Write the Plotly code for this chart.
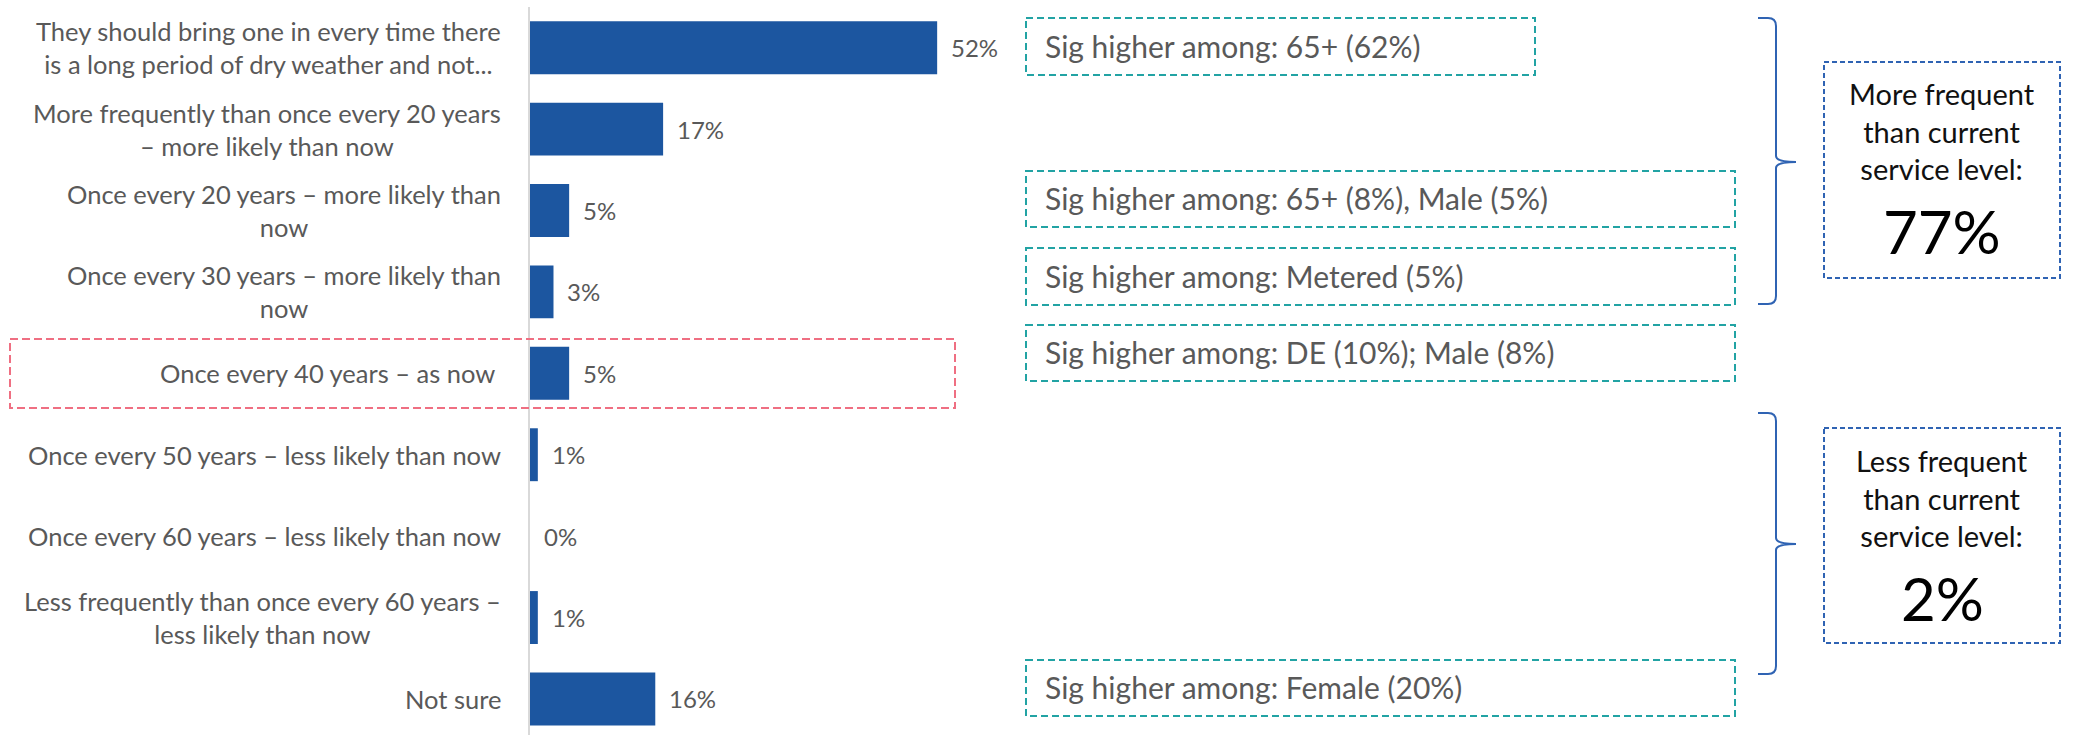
import plotly.graph_objects as go

# ---------------- data ----------------
categories = [
    "They should bring one in every time there<br>is a long period of dry weather and not...",
    "More frequently than once every 20 years<br>– more likely than now",
    "Once every 20 years – more likely than<br>now",
    "Once every 30 years – more likely than<br>now",
    "Once every 40 years – as now",
    "Once every 50 years – less likely than now",
    "Once every 60 years – less likely than now",
    "Less frequently than once every 60 years –<br>less likely than now",
    "Not sure",
]
values = [52, 17, 5, 3, 5, 1, 0, 1, 16]
value_labels = ["52%", "17%", "5%", "3%", "5%", "1%", "0%", "1%", "16%"]

note_texts = [
    "Sig higher among: 65+ (62%)",
    "Sig higher among: 65+ (8%), Male (5%)",
    "Sig higher among: Metered (5%)",
    "Sig higher among: DE (10%); Male (8%)",
    "Sig higher among: Female (20%)",
]
summary_labels = ["More frequent<br>than current<br>service level:",
                  "Less frequent<br>than current<br>service level:"]
summary_values = ["77%", "2%"]

# ---------------- layout helpers ----------------
W, H = 2076, 735
ML, MR, MT, MB = 530, 0, 7, 0
PW, PH = W - ML - MR, H - MT - MB


def px(x):
    return (x - ML) / PW


def py(y):
    return (H - MB - y) / PH


FONT = "Lato"
BAR = "#1c56a0"
TEAL = "#22a3a4"
RED = "#ef6f82"
BLUE = "#2f63b3"
GRAY = "#595959"

fig = go.Figure()
fig.add_trace(go.Bar(
    x=values, y=categories, orientation="h",
    marker=dict(color=BAR, line=dict(width=0)),
    hoverinfo="skip",
))

annotations = []
# category labels
for i, c in enumerate(categories):
    shift = -33 if i == 4 else -27
    annotations.append(dict(
        x=0, xref="paper", y=c, yref="y", text=c, showarrow=False,
        xanchor="right", yanchor="middle", align="center", xshift=shift,
        font=dict(family=FONT, size=25.5, color=GRAY),
    ))
# value labels
for c, v, t in zip(categories, values, value_labels):
    annotations.append(dict(
        x=v, xref="x", y=c, yref="y", text=t, showarrow=False,
        xanchor="left", yanchor="middle", xshift=12,
        font=dict(family=FONT, size=24, color=GRAY),
    ))

shapes = []
# red dashed box round "as now" row
shapes.append(dict(type="rect", xref="paper", yref="paper",
                   x0=px(10), x1=px(955), y0=py(339), y1=py(408),
                   line=dict(color=RED, width=2, dash="8px,4px")))

# teal note boxes
note_boxes = [(1026, 1535, 18, 75), (1026, 1735, 171, 227), (1026, 1735, 248, 305),
              (1026, 1735, 325, 381), (1026, 1735, 660, 716)]
for (x0, x1, y0, y1), t in zip(note_boxes, note_texts):
    shapes.append(dict(type="rect", xref="paper", yref="paper",
                       x0=px(x0), x1=px(x1), y0=py(y0), y1=py(y1),
                       line=dict(color=TEAL, width=2, dash="7px,4px")))
    annotations.append(dict(
        x=px(1043), xref="paper", y=py((y0 + y1) / 2 - 1), yref="paper", text=t,
        showarrow=False, xanchor="left", yanchor="middle",
        font=dict(family=FONT, size=30, color=GRAY),
    ))

# braces
def brace(top, mid, bot, xl=1758, xv=1776, xt=1796, r=8):
    p = []
    p.append(f"M {px(xl)},{py(top)}")
    p.append(f"L {px(xv - r)},{py(top)}")
    p.append(f"Q {px(xv)},{py(top)} {px(xv)},{py(top + r)}")
    p.append(f"L {px(xv)},{py(mid - 6)}")
    p.append(f"Q {px(xv)},{py(mid)} {px(xt)},{py(mid)}")
    p.append(f"Q {px(xv)},{py(mid)} {px(xv)},{py(mid + 6)}")
    p.append(f"L {px(xv)},{py(bot - r)}")
    p.append(f"Q {px(xv)},{py(bot)} {px(xv - r)},{py(bot)}")
    p.append(f"L {px(xl)},{py(bot)}")
    return " ".join(p)


for top, mid, bot in [(18, 162, 304), (413, 544, 674)]:
    shapes.append(dict(type="path", xref="paper", yref="paper",
                       path=brace(top, mid, bot),
                       line=dict(color=BLUE, width=2)))

# summary boxes
summary_boxes = [(1824, 2060, 62, 278, 131, 231), (1824, 2060, 428, 643, 498, 598)]
for (x0, x1, y0, y1, ty, vy), lab, val in zip(summary_boxes, summary_labels, summary_values):
    shapes.append(dict(type="rect", xref="paper", yref="paper",
                       x0=px(x0), x1=px(x1), y0=py(y0), y1=py(y1),
                       line=dict(color=BLUE, width=2, dash="5px,3px")))
    cx = (x0 + x1) / 2
    annotations.append(dict(
        x=px(cx), xref="paper", y=py(ty), yref="paper", text=lab, showarrow=False,
        xanchor="center", yanchor="middle", align="center",
        font=dict(family=FONT, size=29, color="#111111"),
    ))
    annotations.append(dict(
        x=px(cx), xref="paper", y=py(vy), yref="paper", text=val, showarrow=False,
        xanchor="center", yanchor="middle", align="center",
        font=dict(family=FONT, size=60, color="#000000"),
    ))

fig.update_layout(
    width=W, height=H,
    margin=dict(l=ML, r=MR, t=MT, b=MB, pad=0),
    paper_bgcolor="white", plot_bgcolor="white",
    showlegend=False,
    bargap=0.35,
    xaxis=dict(range=[0, PW / 7.83], visible=False, fixedrange=True),
    yaxis=dict(type="category", range=[8.443, -0.5], showticklabels=False,
               showgrid=False, zeroline=False, showline=True,
               linecolor="#d9d9d9", linewidth=2, ticks="", fixedrange=True),
    annotations=annotations,
    shapes=shapes,
)

fig.write_html("out.html", config={"displayModeBar": False},
               post_script="document.body.style.margin='0';document.body.style.overflow='hidden';")
